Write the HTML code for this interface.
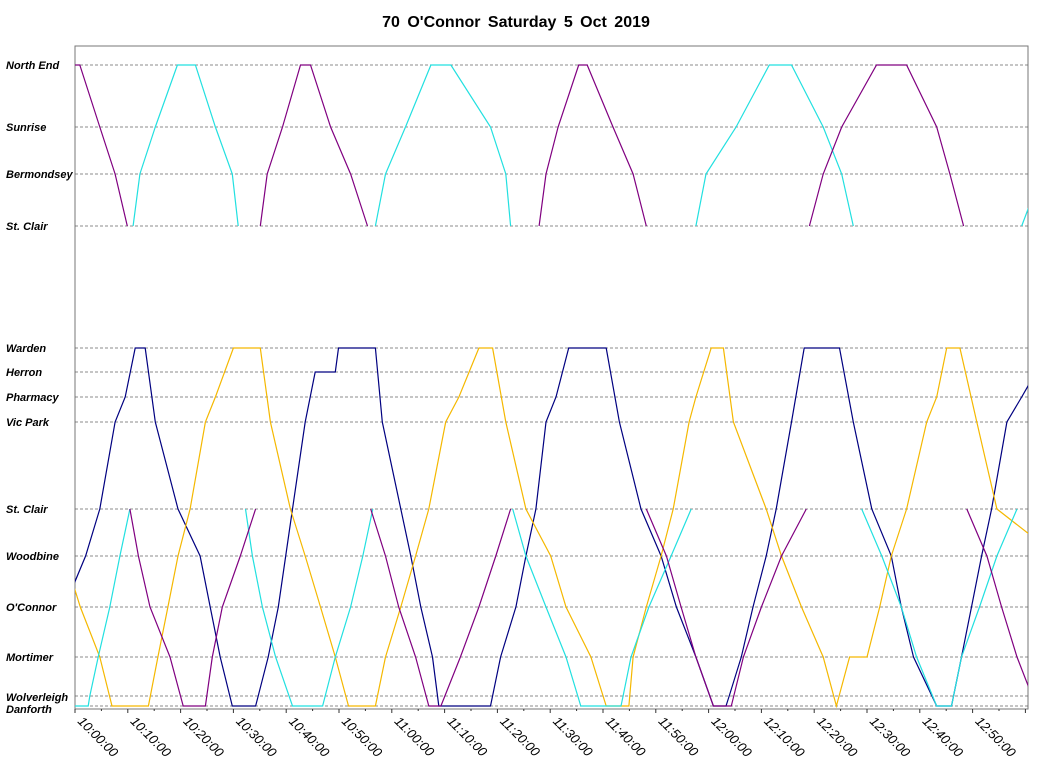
<!DOCTYPE html>
<html><head><meta charset="utf-8"><style>
body{margin:0;background:#fff;}
svg{display:block;font-family:"Liberation Sans",sans-serif;}
</style></head><body>
<svg id="chart" width="1043" height="768" viewBox="0 0 1043 768" xmlns="http://www.w3.org/2000/svg">
<text x="516" y="27" text-anchor="middle" font-size="16" font-weight="bold" word-spacing="3">70 O'Connor Saturday 5 Oct 2019</text>
<defs><clipPath id="pc"><rect x="75" y="46" width="953" height="663"/></clipPath></defs>
<rect x="75" y="46" width="953" height="663" fill="none" stroke="#777" stroke-width="1"/>
<g id="grid"></g><g id="series" clip-path="url(#pc)"></g><g id="axis"></g>
</svg>
<script>
const stopNames = ["North End","Sunrise","Bermondsey","St. Clair N","Warden","Herron","Pharmacy","Vic Park","St. Clair","Woodbine","O'Connor","Mortimer","Wolverleigh","Danforth"];
const stopLabels = ["North End","Sunrise","Bermondsey","St. Clair","Warden","Herron","Pharmacy","Vic Park","St. Clair","Woodbine","O'Connor","Mortimer","Wolverleigh","Danforth"];
const stopPos = [65,127,174,226,348,372,397,422,509,556,607,657,696,706];
const tickLabels = ["10:00:00","10:10:00","10:20:00","10:30:00","10:40:00","10:50:00","11:00:00","11:10:00","11:20:00","11:30:00","11:40:00","11:50:00","12:00:00","12:10:00","12:20:00","12:30:00","12:40:00","12:50:00"];
// minutes after 10:00, stop name
const navyTimes = [-2,2,4.7,7.6,9.5,11.4,13.3,15.2,19.5,23.7,25.6,27.5,29.8,34.2,34.7,36.6,38.5,39.9,41.2,43.6,45.5,49.3,49.9,56.9,58.2,61.7,63.6,65.5,67.7,68.9,78.7,80.6,83.5,85.4,87.3,89.2,91.1,93.5,100.6,103.1,107.2,111,113.9,117.6,120.9,123.3,123.9,126.2,128.4,130.9,132.8,135.7,138.1,144.8,147.4,150.9,154.6,156.5,158.8,163.2,166,167.9,169.8,171.7,173.6,176.5,179.3,182];
const navyStops = ["O'Connor","Woodbine","St. Clair","Vic Park","Pharmacy","Warden","Warden","Vic Park","St. Clair","Woodbine","O'Connor","Mortimer","Danforth","Danforth","Wolverleigh","Mortimer","O'Connor","Woodbine","St. Clair","Vic Park","Herron","Herron","Warden","Warden","Vic Park","St. Clair","Woodbine","O'Connor","Mortimer","Danforth","Danforth","Mortimer","O'Connor","Woodbine","St. Clair","Vic Park","Pharmacy","Warden","Warden","Vic Park","St. Clair","Woodbine","O'Connor","Mortimer","Danforth","Danforth","Wolverleigh","Mortimer","O'Connor","Woodbine","St. Clair","Vic Park","Warden","Warden","Vic Park","St. Clair","Woodbine","O'Connor","Mortimer","Danforth","Danforth","Mortimer","O'Connor","Woodbine","St. Clair","Vic Park","Pharmacy","Herron"];
const orangeTimes = [-2,1,4.7,7,13.9,15.7,17.6,19.5,21.8,24.7,26.6,30,35.1,37,40.8,43.6,46.5,49.3,51.8,56.9,58.8,61.7,64.5,67,70.2,72.7,76.5,79.1,81.6,85.4,90.1,93,97.7,100.6,104.9,105.7,108.2,111,113.3,116.3,117.6,120.5,122.8,124.7,130.9,133.8,137.6,141.7,144.2,146.7,147.4,150,152.4,154.6,157.5,161.3,163.2,165.1,167.6,170.8,174.6,186];
const orangeStops = ["Woodbine","O'Connor","Mortimer","Danforth","Danforth","Mortimer","O'Connor","Woodbine","St. Clair","Vic Park","Pharmacy","Warden","Warden","Vic Park","St. Clair","Woodbine","O'Connor","Mortimer","Danforth","Danforth","Mortimer","O'Connor","Woodbine","St. Clair","Vic Park","Pharmacy","Warden","Warden","Vic Park","St. Clair","Woodbine","O'Connor","Mortimer","Danforth","Danforth","Mortimer","O'Connor","Woodbine","St. Clair","Vic Park","Pharmacy","Warden","Warden","Vic Park","St. Clair","Woodbine","O'Connor","Mortimer","Danforth","Mortimer","Mortimer","Mortimer","O'Connor","Woodbine","St. Clair","Vic Park","Pharmacy","Warden","Warden","Vic Park","St. Clair","Woodbine"];
const cyanTrips = [
 {t:[-1,2.5,2.8,4.4,6.6,8.5,10.4], s:["Danforth","Danforth","Wolverleigh","Mortimer","O'Connor","Woodbine","St. Clair"]},
 {t:[32.3,33.6,35.5,38,41.2,46.9,49.3,52.2,54.5,56.4], s:["St. Clair","Woodbine","O'Connor","Mortimer","Danforth","Danforth","Mortimer","O'Connor","Woodbine","St. Clair"]},
 {t:[82.9,85.4,89.2,93,95.8,103.4,103.8,105.3,108.7,112.9,116.7], s:["St. Clair","Woodbine","O'Connor","Mortimer","Danforth","Danforth","Wolverleigh","Mortimer","O'Connor","Woodbine","St. Clair"]},
 {t:[149,152.8,156.5,159.4,163.2,166,167.9,171.3,174.6,178.4], s:["St. Clair","Woodbine","O'Connor","Mortimer","Danforth","Danforth","Mortimer","O'Connor","Woodbine","St. Clair"]},
 {t:[11,12.3,15.2,19.4,22.8,26.6,29.8,30.9], s:["St. Clair N","Bermondsey","Sunrise","North End","North End","Sunrise","Bermondsey","St. Clair N"]},
 {t:[56.9,58.8,62.6,67.4,71.2,78.7,81.6,82.5], s:["St. Clair N","Bermondsey","Sunrise","North End","North End","Sunrise","Bermondsey","St. Clair N"]},
 {t:[117.6,119.5,125.2,131.5,135.7,141.7,145.2,147.4], s:["St. Clair N","Bermondsey","Sunrise","North End","North End","Sunrise","Bermondsey","St. Clair N"]},
 {t:[179.3,183], s:["St. Clair N","Bermondsey"]}
];
const purpleTrips = [
 {t:[10.4,12,14.2,18,20.5,24.7,26,27.9,31.3,34.2], s:["St. Clair","Woodbine","O'Connor","Mortimer","Danforth","Danforth","Mortimer","O'Connor","Woodbine","St. Clair"]},
 {t:[56,58.8,61.3,64.5,67,69.3,73,76.5,79.7,82.5], s:["St. Clair","Woodbine","O'Connor","Mortimer","Danforth","Danforth","Mortimer","O'Connor","Woodbine","St. Clair"]},
 {t:[108.2,112,114.8,117.6,120.9,124.3,126.6,130,133.8,138.5], s:["St. Clair","Woodbine","O'Connor","Mortimer","Danforth","Danforth","Mortimer","O'Connor","Woodbine","St. Clair"]},
 {t:[168.9,172.7,175.5,178.4,182], s:["St. Clair","Woodbine","O'Connor","Mortimer","Danforth"]},
 {t:[-0.5,0.9,4.7,7.6,9.9], s:["North End","North End","Sunrise","Bermondsey","St. Clair N"]},
 {t:[35.1,36.4,39.3,42.7,44.6,48.4,52.2,55.4], s:["St. Clair N","Bermondsey","Sunrise","North End","North End","Sunrise","Bermondsey","St. Clair N"]},
 {t:[87.9,89.2,91.5,95.4,97,101.9,105.7,108.2], s:["St. Clair N","Bermondsey","Sunrise","North End","North End","Sunrise","Bermondsey","St. Clair N"]},
 {t:[139.1,141.7,145.2,151.8,157.5,163.2,165.7,168.3], s:["St. Clair N","Bermondsey","Sunrise","North End","North End","Sunrise","Bermondsey","St. Clair N"]}
];
const X0 = 75, PX_PER_MIN = 5.28;
function xScale(m){ return X0 + m*PX_PER_MIN; }
function yScale(name){ const i = stopNames.indexOf(name); return stopPos[i]; }
const NS = "http://www.w3.org/2000/svg";
const grid = document.getElementById('grid'), axis = document.getElementById('axis'), series = document.getElementById('series');
stopNames.forEach((n,i)=>{
  const y = stopPos[i];
  const l = document.createElementNS(NS,'line');
  l.setAttribute('x1',75); l.setAttribute('x2',1028); l.setAttribute('y1',y); l.setAttribute('y2',y);
  l.setAttribute('stroke','#666'); l.setAttribute('stroke-dasharray','3,2'); l.setAttribute('stroke-width','0.8');
  
  
  grid.appendChild(l);
  const t = document.createElementNS(NS,'text');
  let ty = y+4; if(n==="Wolverleigh") ty=y+5; if(n==="Danforth") ty=y+7;
  t.setAttribute('x',6); t.setAttribute('y',ty);
  t.setAttribute('font-size','11'); t.setAttribute('font-weight','bold'); t.setAttribute('font-style','italic');
  t.textContent = stopLabels[i];
  
  
  axis.appendChild(t);
});
for(let m=0;m<=180;m+=5){
  const x = xScale(m);
  const tk = document.createElementNS(NS,'line');
  tk.setAttribute('x1',x); tk.setAttribute('x2',x); tk.setAttribute('y1',709); tk.setAttribute('y2', m%10===0?713:711);
  tk.setAttribute('stroke','#333');
  
  
  axis.appendChild(tk);
}
tickLabels.forEach((lab,i)=>{
  const x = xScale(i*10);
  const t = document.createElementNS(NS,'text');
  t.setAttribute('x',x+2); t.setAttribute('y',722);
  t.setAttribute('font-size','13'); t.setAttribute('font-style','italic');
  t.setAttribute('transform','rotate(45 '+(x+2)+' 722)');
  t.textContent = lab;
  
  
  axis.appendChild(t);
});
function draw(times, stops, color, name){
  const p = document.createElementNS(NS,'polyline');
  p.setAttribute('points', times.map((m,i)=>xScale(m).toFixed(1)+','+yScale(stops[i])).join(' '));
  p.setAttribute('fill','none'); p.setAttribute('stroke',color); p.setAttribute('stroke-width','1.2');
  
  
  series.appendChild(p);
}
draw(navyTimes, navyStops, '#000080', 'navy-bus-line');
draw(orangeTimes, orangeStops, '#f5b800', 'orange-bus-line');
cyanTrips.forEach(tr=>draw(tr.t, tr.s, '#22e0e0', 'cyan-bus-trip'));
purpleTrips.forEach(tr=>draw(tr.t, tr.s, '#800080', 'purple-bus-trip'));
</script>
</body></html>
